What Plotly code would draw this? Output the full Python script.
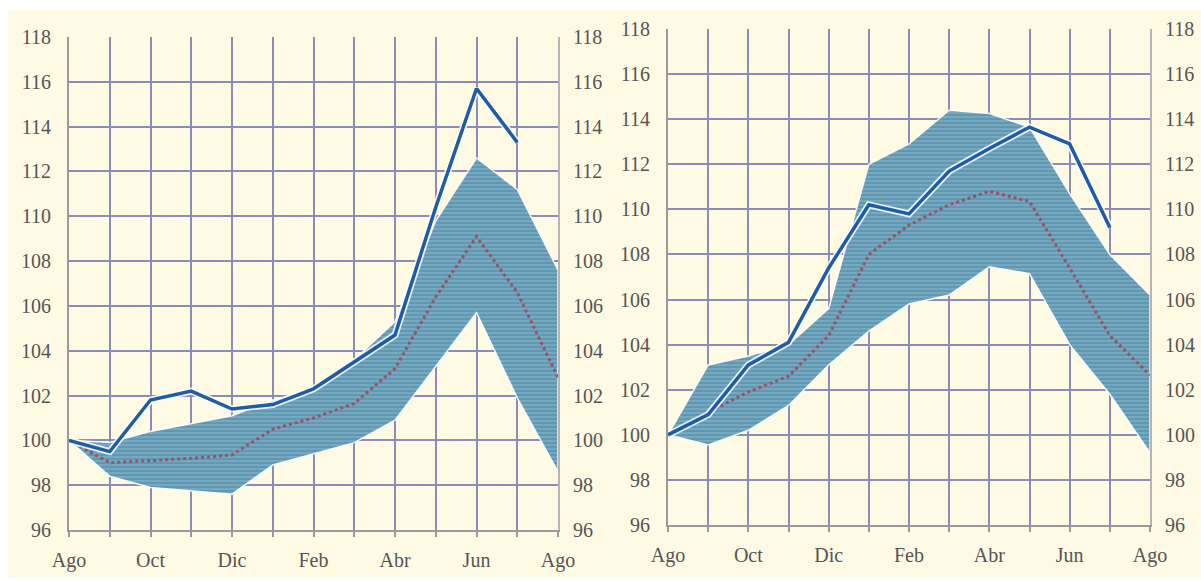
import plotly.graph_objects as go

# ---------------- data ----------------
months = ["Ago", "Sep", "Oct", "Nov", "Dic", "Ene", "Feb", "Mar", "Abr", "May", "Jun", "Jul", "Ago"]
tick_text = ["Ago", "", "Oct", "", "Dic", "", "Feb", "", "Abr", "", "Jun", "", "Ago"]
y_ticks = [96, 98, 100, 102, 104, 106, 108, 110, 112, 114, 116, 118]

# Left panel
L_actual = [100, 99.5, 101.8, 102.2, 101.4, 101.6, 102.3, 103.5, 104.7, 110.4, 115.7, 113.3]
L_upper = [100, 99.9, 100.4, 100.75, 101.1, 101.8, 102.2, 103.6, 105.3, 109.8, 112.6, 111.2, 107.6]
L_lower = [100, 98.4, 97.9, 97.75, 97.6, 98.9, 99.4, 99.9, 100.9, 103.3, 105.7, 101.9, 98.6]
L_median = [100, 99.0, 99.1, 99.2, 99.35, 100.5, 101.0, 101.65, 103.2, 106.4, 109.1, 106.6, 102.8]

# Right panel
R_actual = [100, 100.9, 103.1, 104.1, 107.4, 110.2, 109.8, 111.7, 112.7, 113.65, 112.9, 109.2]
R_upper = [100, 103.1, 103.5, 104.0, 105.6, 112.0, 112.9, 114.4, 114.25, 113.65, 110.7, 108.0, 106.2]
R_lower = [100, 99.55, 100.2, 101.3, 103.1, 104.6, 105.8, 106.2, 107.45, 107.15, 104.0, 101.8, 99.2]
R_median = [100, 101.0, 101.9, 102.6, 104.4, 108.0, 109.3, 110.2, 110.8, 110.35, 107.4, 104.4, 102.65]

# ---------------- style ----------------
W, H = 1201, 581
CREAM = "#FFFAE3"
GRID = "#8C8CB6"
AXIS = "#9A9A9A"
FONT = dict(family="Liberation Serif", size=20, color="#555555")
BAND_FG = "#4884A0"
BAND_BG = "#78ABC2"
SOLID = "#1E5CA6"
DOT = "#9A5068"

fig = go.Figure()

def add_panel(xa, ya, actual, upper, lower, median):
    idx = list(range(len(months)))
    xs = idx + idx[::-1]
    ys = upper + lower[::-1]
    fig.add_trace(go.Scatter(
        x=xs, y=ys, xaxis=xa, yaxis=ya, mode="lines", fill="toself",
        fillcolor=BAND_BG,
        fillpattern=dict(shape="-", fgcolor=BAND_FG, bgcolor=BAND_BG, size=4, solidity=0.55),
        line=dict(color="rgba(255,255,255,0.9)", width=1.5),
        hoverinfo="skip", showlegend=False))
    fig.add_trace(go.Scatter(
        x=idx, y=median, xaxis=xa, yaxis=ya, mode="lines",
        line=dict(color=DOT, width=3, dash="dot"),
        showlegend=False))
    ia = list(range(len(actual)))
    fig.add_trace(go.Scatter(
        x=ia, y=actual, xaxis=xa, yaxis=ya, mode="lines",
        line=dict(color="rgba(255,255,255,0.85)", width=7),
        hoverinfo="skip", showlegend=False))
    fig.add_trace(go.Scatter(
        x=ia, y=actual, xaxis=xa, yaxis=ya, mode="lines",
        line=dict(color=SOLID, width=3.5),
        showlegend=False))

add_panel("x", "y", L_actual, L_upper, L_lower, L_median)
add_panel("x2", "y3", R_actual, R_upper, R_lower, R_median)

# invisible traces so the right-hand axes render
fig.add_trace(go.Scatter(x=[0], y=[100], xaxis="x", yaxis="y2", mode="markers",
                         marker=dict(opacity=0), hoverinfo="skip", showlegend=False))
fig.add_trace(go.Scatter(x=[0], y=[100], xaxis="x2", yaxis="y4", mode="markers",
                         marker=dict(opacity=0), hoverinfo="skip", showlegend=False))

def xaxis_cfg(domain, anchor):
    return dict(domain=domain, anchor=anchor, range=[0, 12],
                tickvals=list(range(13)), ticktext=tick_text,
                showgrid=True, gridcolor=GRID, gridwidth=2,
                showline=True, linecolor=AXIS, linewidth=2,
                ticks="outside", ticklen=5, tickcolor=AXIS, tickwidth=1.5,
                ticklabelstandoff=6, zeroline=False, tickfont=FONT,
                layer="below traces", automargin=False)

def yaxis_cfg(domain, anchor, grid=True, standoff=12):
    return dict(domain=domain, anchor=anchor, range=[96, 118],
                tickvals=y_ticks, showgrid=grid, gridcolor=GRID, gridwidth=2,
                showline=True, linecolor=AXIS, linewidth=2,
                ticks="", ticklabelstandoff=standoff, zeroline=False, tickfont=FONT,
                layer="below traces", automargin=False)

# pixel geometry (margins are zero so paper == figure)
Lx = [69 / W, 558 / W]
Ly = [(H - 530) / H, (H - 37) / H]
Rx = [668 / W, 1150 / W]
Ry = [(H - 525) / H, (H - 29) / H]

y2 = yaxis_cfg(Ly, "x", grid=False, standoff=9)
y2.update(overlaying="y", side="right", linecolor="#B5B5B5")
y4 = yaxis_cfg(Ry, "x2", grid=False, standoff=9)
y4.update(overlaying="y3", side="right", linecolor="#B5B5B5")

fig.update_layout(
    width=W, height=H,
    margin=dict(l=0, r=0, t=0, b=0, pad=0),
    paper_bgcolor=CREAM, plot_bgcolor=CREAM,
    font=FONT,
    xaxis=xaxis_cfg(Lx, "y"),
    yaxis=yaxis_cfg(Ly, "x"),
    yaxis2=y2,
    xaxis2=xaxis_cfg(Rx, "y3"),
    yaxis3=yaxis_cfg(Ry, "x2"),
    yaxis4=y4,
    showlegend=False,
    shapes=[
        dict(type="rect", xref="paper", yref="paper", x0=0, x1=1, y0=(H - 10) / H, y1=1,
             fillcolor="white", line=dict(width=0), layer="below"),
        dict(type="rect", xref="paper", yref="paper", x0=0, x1=8 / W, y0=0, y1=1,
             fillcolor="white", line=dict(width=0), layer="below"),
        dict(type="rect", xref="paper", yref="paper", x0=0, x1=1, y0=0, y1=4 / H,
             fillcolor="white", line=dict(width=0), layer="below"),
    ],
)

fig.write_html(
    "out.html",
    config={"displayModeBar": False},
    post_script="document.body.style.margin='0';document.body.style.overflow='hidden';",
)
